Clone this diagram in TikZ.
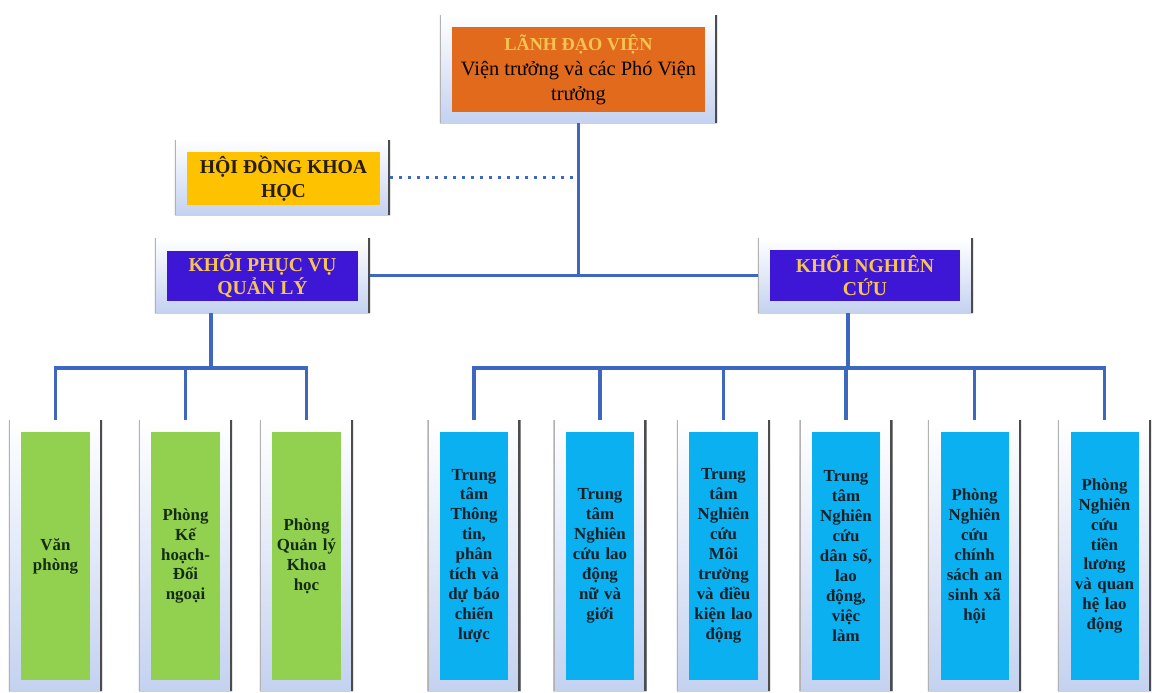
\documentclass[tikz,border=0pt]{standalone}
\usepackage{fontspec}
\setmainfont{Liberation Serif}
\usepackage{tikz}
\usetikzlibrary{calc}
\definecolor{lineblue}{RGB}{62,104,192}
\definecolor{frameblue}{RGB}{196,210,240}
\definecolor{orangebox}{RGB}{226,106,28}
\definecolor{yellowbox}{RGB}{255,194,0}
\definecolor{purplebox}{RGB}{62,22,214}
\definecolor{greenbox}{RGB}{146,208,80}
\definecolor{cyanbox}{RGB}{10,176,240}
\definecolor{goldtext}{RGB}{246,196,84}
\definecolor{darktext}{RGB}{18,32,40}

\begin{document}
\begin{tikzpicture}[x=0.025cm, y=-0.025cm,
	frame/.style={inner sep=0, top color=white, bottom color=frameblue,
		path picture={
			\draw[line width=3pt, black!70] (path picture bounding box.north east) -- (path picture bounding box.south east);
			\draw[line width=2pt, black!30] (path picture bounding box.north west) -- (path picture bounding box.south west);}},
	unitbox/.style={inner sep=1pt, align=center, text=darktext, font=\fontsize{12}{14.2}\selectfont\bfseries,
		minimum width=1.7cm, minimum height=6.2cm, text width=1.6cm},
	headbox/.style={inner sep=1pt, align=center, fill=purplebox, text=goldtext, font=\fontsize{14}{16.4}\selectfont\bfseries,
		minimum width=4.75cm, minimum height=1.27cm},
	conn/.style={line width=2.2pt, color=lineblue},
	dotline/.style={line width=2.2pt, color=lineblue, dash pattern=on 2.2pt off 4.2pt}]
			%%%%% START %%%%%
			
			\fill[white] (0,0) rectangle (1152,692);
			\useasboundingbox (0,0) rectangle (1152,692);
			
			% top
			\node[frame, minimum width=6.925cm, minimum height=2.7cm] (lanhF) at (578.5, 69) {};
			\node[fill=orangebox, inner sep=1pt, align=center, minimum width=6.325cm, minimum height=2.125cm,
				font=\fontsize{14.5}{17.8}\selectfont] (lanh) at (578.5, 69.5)
				{{\fontsize{13}{17.8}\selectfont\bfseries\color{goldtext}LÃNH ĐẠO VIỆN}\\Viện trưởng và các Phó Viện\\trưởng};
			
			\node[frame, minimum width=5.375cm, minimum height=1.875cm] (hoiF) at (282.5, 177.5) {};
			\node[fill=yellowbox, inner sep=1pt, align=center, minimum width=4.825cm, minimum height=1.325cm,
				text={rgb,255:red,40;green,28;blue,10}, font=\fontsize{14}{17}\selectfont\bfseries] (hoi) at (283.5, 178.5)
				{HỘI ĐỒNG KHOA\\HỌC};
			
			\node[frame, minimum width=5.375cm, minimum height=1.875cm] (kpvF) at (262.5, 275.5) {};
			\node[headbox] (kpv) at (262.5, 276) {KHỐI PHỤC VỤ\\QUẢN LÝ};
			
			\node[frame, minimum width=5.375cm, minimum height=1.875cm] (kncF) at (865.5, 275.5) {};
			\node[headbox] (knc) at (865, 275.5) {KHỐI NGHIÊN\\CỨU};
			
			% units
			\foreach \x/\n/\t in {55.5/b1/{Văn\\phòng}, 185.5/b2/{Phòng\\Kế\\hoạch-\\Đối\\ngoại}, 306.5/b3/{Phòng\\Quản lý\\Khoa\\học}}{
				\node[frame, minimum width=2.325cm, minimum height=6.775cm] (\n F) at (\x, 555.5) {};
				\node[unitbox, fill=greenbox, text={rgb,255:red,20;green,44;blue,20}] (\n) at (\x, 556) {\t};
			}
			\foreach \x/\n/\t in {474/b4/{Trung\\tâm\\Thông\\tin,\\phân\\tích và\\dự báo\\chiến\\lược},
				600/b5/{Trung\\tâm\\Nghiên\\cứu lao\\động\\nữ và\\giới},
				723.5/b6/{Trung\\tâm\\Nghiên\\cứu\\Môi\\trường\\và điều\\kiện lao\\động},
				846/b7/{Trung\\tâm\\Nghiên\\cứu\\dân số,\\lao\\động,\\việc\\làm},
				974.5/b8/{Phòng\\Nghiên\\cứu\\chính\\sách an\\sinh xã\\hội},
				1104.5/b9/{Phòng\\Nghiên\\cứu\\tiền\\lương\\và quan\\hệ lao\\động}}{
				\node[frame, minimum width=2.325cm, minimum height=6.775cm] (\n F) at (\x, 555.5) {};
				\node[unitbox, fill=cyanbox] (\n) at (\x, 556) {\t};
			}
			
			% connectors
			\coordinate (busL) at (211, 368);
			\coordinate (busR) at (848, 368);
			
			\draw[conn] (lanhF.south) -- (lanhF.south |- kpvF.east);
			\draw[conn] (kpvF.east) -- (kncF.west);
			\draw[dotline] (hoiF.east) -- ($(hoiF.east -| lanhF.south)+(-4,0)$);
			
			\draw[conn] (kpvF.south -| busL) -- (busL);
			\draw[conn, line cap=rect] (b1F.north |- busL) -- (b3F.north |- busL);
			\foreach \n in {b1F,b2F,b3F}
				\draw[conn] (\n.north |- busL) -- (\n.north);
			
			\draw[conn] (kncF.south -| busR) -- (busR);
			\draw[conn, line cap=rect] (b4F.north |- busR) -- (b9F.north |- busR);
			\foreach \n in {b4F,b5F,b6F,b7F,b8F,b9F}
				\draw[conn] (\n.north |- busR) -- (\n.north);
			
			%%%%% END %%%%%
		\end{tikzpicture}
\end{document}
